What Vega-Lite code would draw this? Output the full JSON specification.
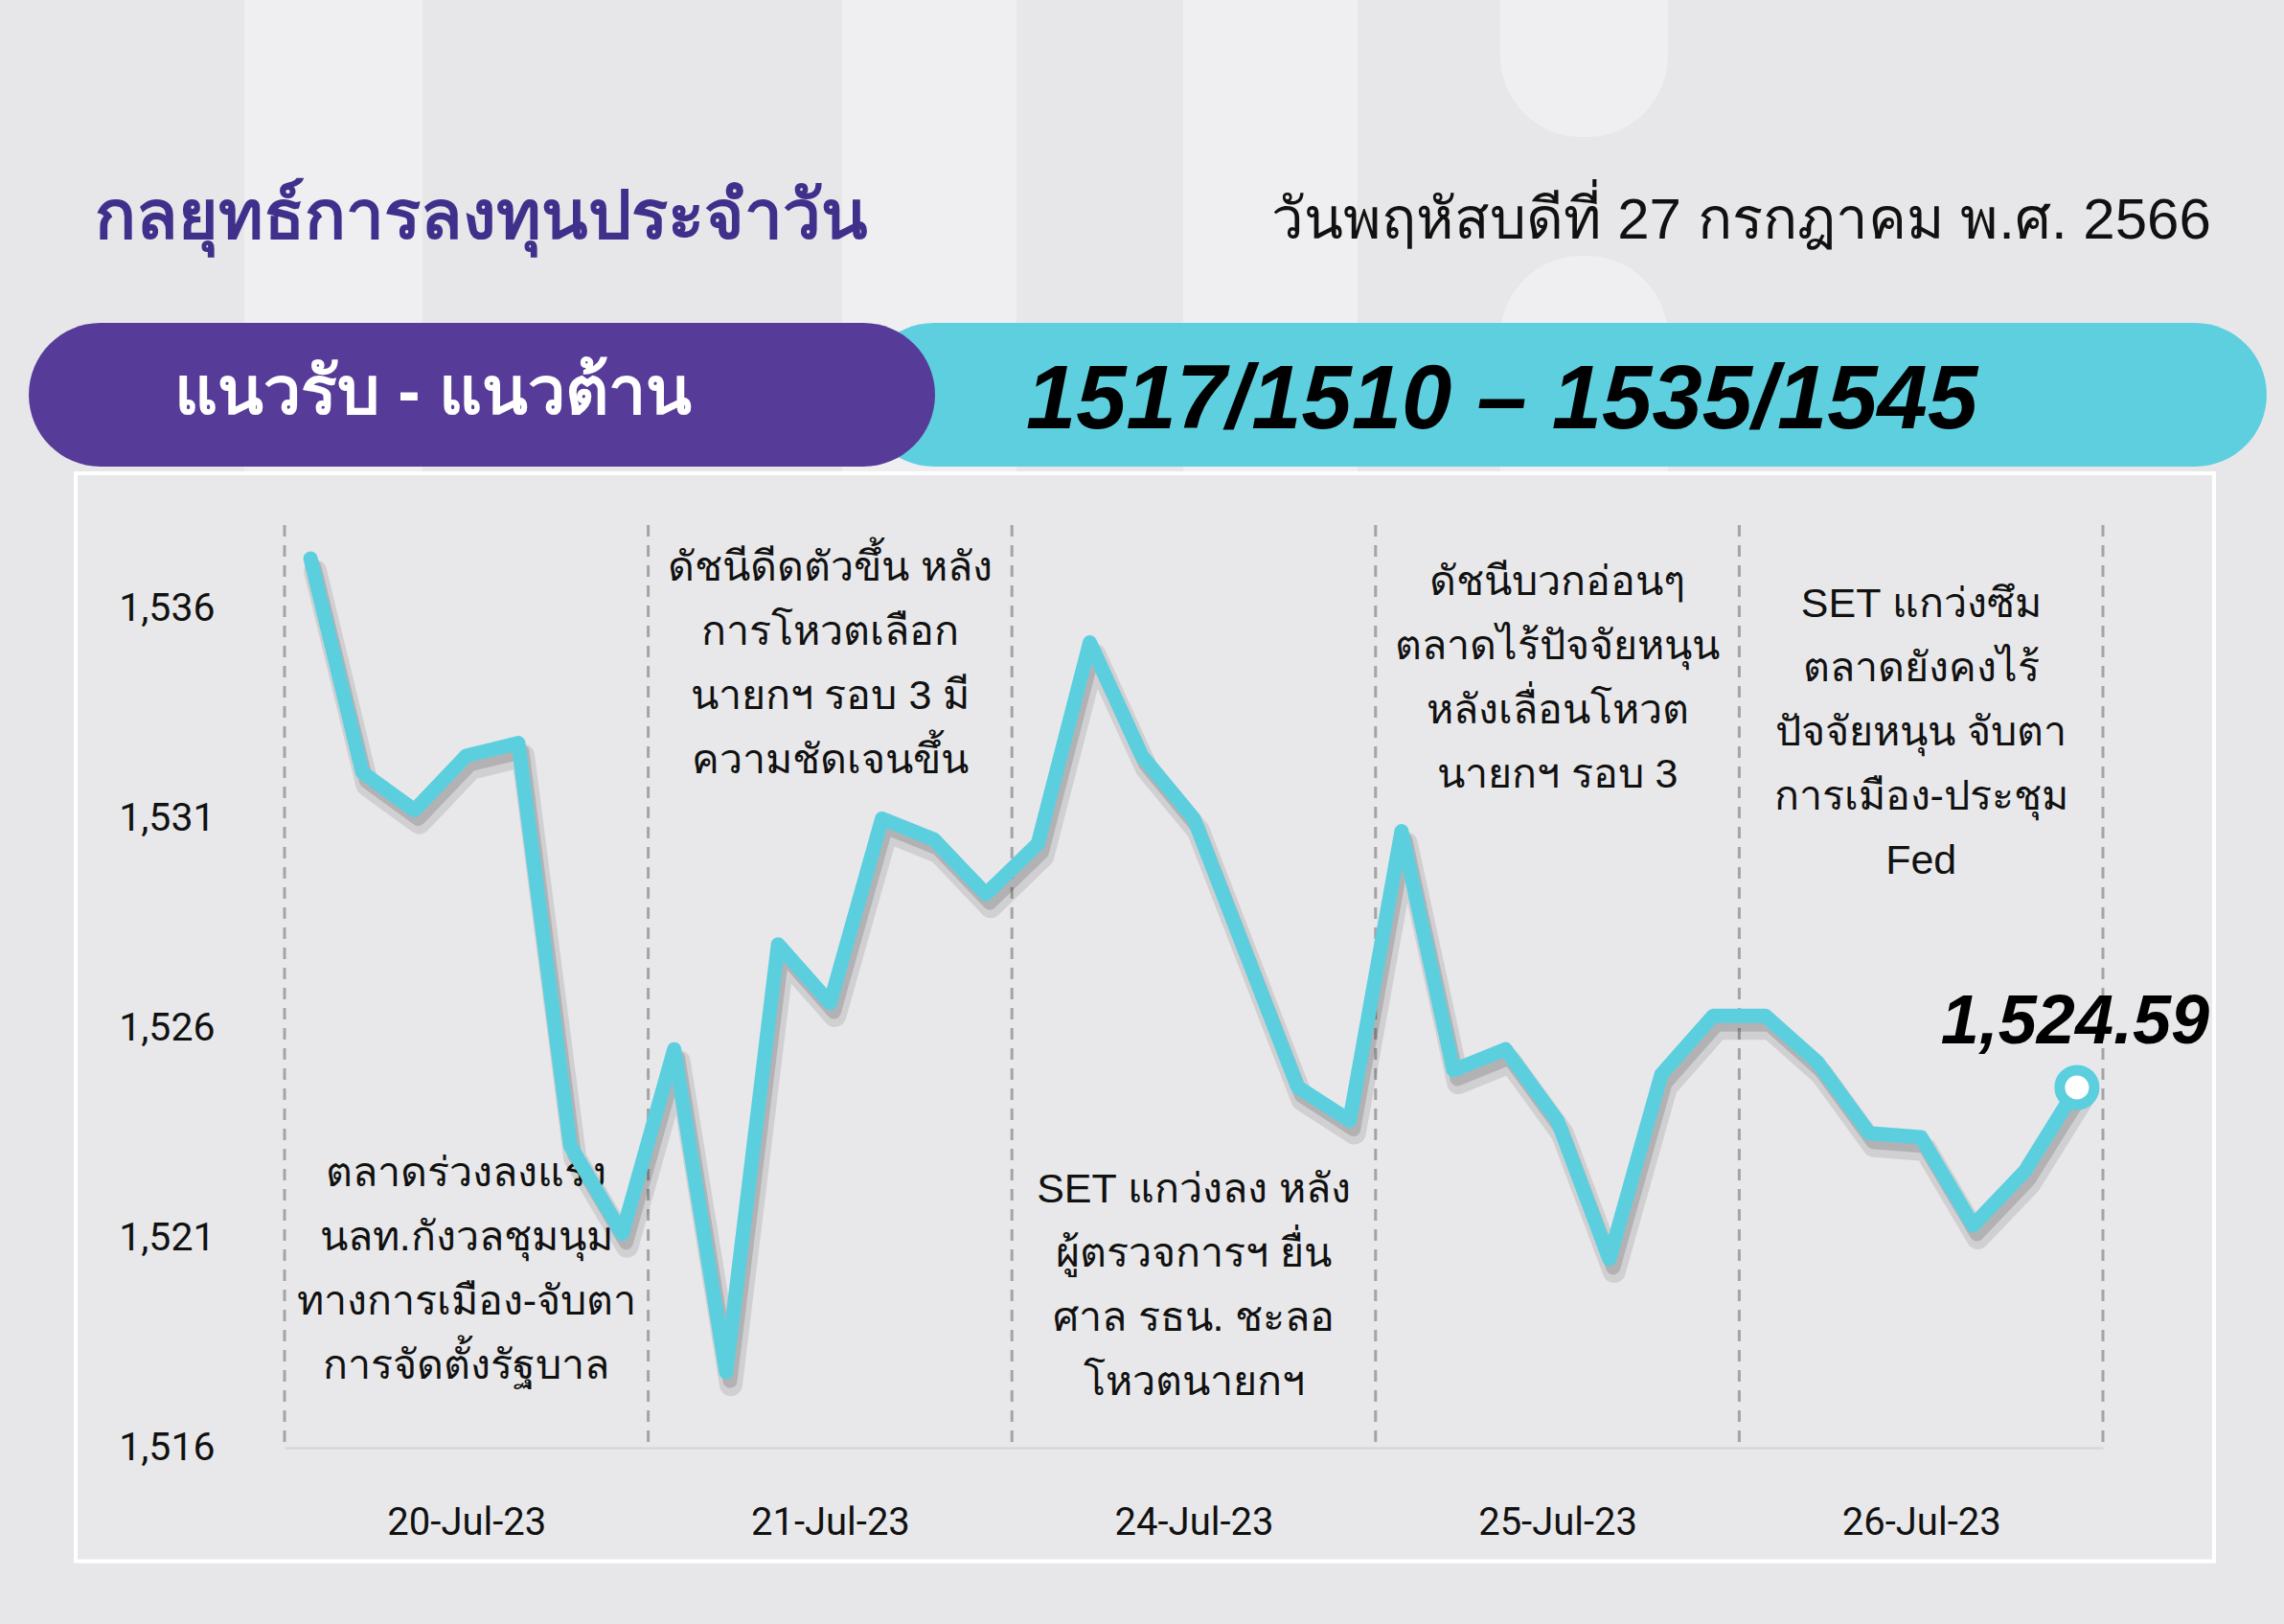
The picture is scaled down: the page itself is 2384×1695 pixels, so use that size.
{
  "$schema": "https://vega.github.io/schema/vega-lite/v6.json",
  "autosize": {"type": "none"},
  "width": 1898,
  "height": 963,
  "padding": {"left": 297, "top": 548, "right": 189, "bottom": 184},
  "background": "#e7e7e9",
  "config": {"view": {"stroke": null}, "font": "Liberation Sans"},
  "datasets": {
    "set": [
      {"i": 0, "date": "20-Jul-23", "close": 1537.2},
      {"i": 1, "date": "20-Jul-23", "close": 1532.1},
      {"i": 2, "date": "20-Jul-23", "close": 1531.2},
      {"i": 3, "date": "20-Jul-23", "close": 1532.5},
      {"i": 4, "date": "20-Jul-23", "close": 1532.8},
      {"i": 5, "date": "20-Jul-23", "close": 1523.2},
      {"i": 6, "date": "20-Jul-23", "close": 1521.1},
      {"i": 7, "date": "21-Jul-23", "close": 1525.5},
      {"i": 8, "date": "21-Jul-23", "close": 1517.8},
      {"i": 9, "date": "21-Jul-23", "close": 1528.0},
      {"i": 10, "date": "21-Jul-23", "close": 1526.6},
      {"i": 11, "date": "21-Jul-23", "close": 1531.0},
      {"i": 12, "date": "21-Jul-23", "close": 1530.5},
      {"i": 13, "date": "21-Jul-23", "close": 1529.2},
      {"i": 14, "date": "24-Jul-23", "close": 1530.4},
      {"i": 15, "date": "24-Jul-23", "close": 1535.2},
      {"i": 16, "date": "24-Jul-23", "close": 1532.5},
      {"i": 17, "date": "24-Jul-23", "close": 1531.0},
      {"i": 18, "date": "24-Jul-23", "close": 1527.8},
      {"i": 19, "date": "24-Jul-23", "close": 1524.6},
      {"i": 20, "date": "24-Jul-23", "close": 1523.8},
      {"i": 21, "date": "25-Jul-23", "close": 1530.7},
      {"i": 22, "date": "25-Jul-23", "close": 1525.0},
      {"i": 23, "date": "25-Jul-23", "close": 1525.5},
      {"i": 24, "date": "25-Jul-23", "close": 1523.8},
      {"i": 25, "date": "25-Jul-23", "close": 1520.5},
      {"i": 26, "date": "25-Jul-23", "close": 1524.9},
      {"i": 27, "date": "25-Jul-23", "close": 1526.3},
      {"i": 28, "date": "26-Jul-23", "close": 1526.3},
      {"i": 29, "date": "26-Jul-23", "close": 1525.2},
      {"i": 30, "date": "26-Jul-23", "close": 1523.5},
      {"i": 31, "date": "26-Jul-23", "close": 1523.4},
      {"i": 32, "date": "26-Jul-23", "close": 1521.3},
      {"i": 33, "date": "26-Jul-23", "close": 1522.6},
      {"i": 34, "date": "26-Jul-23", "close": 1524.59}
    ],
    "days": [
      {"b": -0.5}, {"b": 6.5}, {"b": 13.5}, {"b": 20.5}, {"b": 27.5}, {"b": 34.5}
    ],
    "notes": [
      {"mid": 3, "level": 1522.54, "note": "ตลาดร่วงลงแรง\nนลท.กังวลชุมนุม\nทางการเมือง-จับตา\nการจัดตั้งรัฐบาล"},
      {"mid": 10, "level": 1536.97, "note": "ดัชนีดีดตัวขึ้น หลัง\nการโหวตเลือก\nนายกฯ รอบ 3 มี\nความชัดเจนขึ้น"},
      {"mid": 17, "level": 1522.15, "note": "SET แกว่งลง หลัง\nผู้ตรวจการฯ ยื่น\nศาล รธน. ชะลอ\nโหวตนายกฯ"},
      {"mid": 24, "level": 1536.63, "note": "ดัชนีบวกอ่อนๆ\nตลาดไร้ปัจจัยหนุน\nหลังเลื่อนโหวต\nนายกฯ รอบ 3"},
      {"mid": 31, "level": 1536.1, "note": "SET แกว่งซึม\nตลาดยังคงไร้\nปัจจัยหนุน จับตา\nการเมือง-ประชุม\nFed"}
    ]
  },
  "layer": [
    {
      "data": {"values": [{}]},
      "mark": {"type": "rect", "color": "#efeff1"},
      "encoding": {
        "x": {"datum": -1.274, "type": "quantitative", "scale": {"domain": [-0.5, 34.5], "nice": false, "zero": false}},
        "x2": {"datum": 2.155},
        "y": {"datum": 1550.6, "type": "quantitative", "scale": {"domain": [1516, 1538], "nice": false, "zero": false}},
        "y2": {"datum": 1539.0}
      }
    },
    {
      "data": {"values": [{}]},
      "mark": {"type": "rect", "color": "#efeff1"},
      "encoding": {
        "x": {"datum": 10.232, "type": "quantitative"},
        "x2": {"datum": 13.588},
        "y": {"datum": 1550.6, "type": "quantitative"},
        "y2": {"datum": 1539.0}
      }
    },
    {
      "data": {"values": [{}]},
      "mark": {"type": "rect", "color": "#efeff1"},
      "encoding": {
        "x": {"datum": 16.797, "type": "quantitative"},
        "x2": {"datum": 20.153},
        "y": {"datum": 1550.6, "type": "quantitative"},
        "y2": {"datum": 1539.0}
      }
    },
    {
      "data": {"values": [{}]},
      "mark": {"type": "rect", "color": "#efeff1", "cornerRadius": 85},
      "encoding": {
        "x": {"datum": 22.9, "type": "quantitative"},
        "x2": {"datum": 26.127},
        "y": {"datum": 1553.5, "type": "quantitative"},
        "y2": {"datum": 1547.25}
      }
    },
    {
      "data": {"values": [{}]},
      "mark": {"type": "rect", "color": "#efeff1", "cornerRadius": 85},
      "encoding": {
        "x": {"datum": 22.9, "type": "quantitative"},
        "x2": {"datum": 26.127},
        "y": {"datum": 1544.42, "type": "quantitative"},
        "y2": {"datum": 1536.8}
      }
    },
    {
      "data": {"values": [{}]},
      "mark": {"type": "rect", "fill": "#e8e8ea", "stroke": "#ffffff", "strokeWidth": 4},
      "encoding": {
        "x": {"datum": -4.52, "type": "quantitative"},
        "x2": {"datum": 36.638},
        "y": {"datum": 1539.233, "type": "quantitative"},
        "y2": {"datum": 1513.291}
      }
    },
    {
      "data": {"values": [{}]},
      "mark": {"type": "rect", "color": "#5dcfdf", "cornerRadius": 75},
      "encoding": {
        "x": {"datum": 10.619, "type": "quantitative"},
        "x2": {"datum": 37.652},
        "y": {"datum": 1542.818, "type": "quantitative"},
        "y2": {"datum": 1539.393}
      }
    },
    {
      "data": {"values": [{}]},
      "mark": {"type": "rect", "color": "#563b98", "cornerRadius": 75},
      "encoding": {
        "x": {"datum": -5.423, "type": "quantitative"},
        "x2": {"datum": 12.021},
        "y": {"datum": 1542.818, "type": "quantitative"},
        "y2": {"datum": 1539.393}
      }
    },
    {
      "data": {"values": [{"t": "กลยุทธ์การลงทุนประจำวัน"}]},
      "mark": {"type": "text", "align": "left", "baseline": "middle", "fontSize": 71, "fontWeight": "bold", "color": "#40308c"},
      "encoding": {
        "x": {"datum": -4.151, "type": "quantitative"},
        "y": {"datum": 1545.31, "type": "quantitative"},
        "text": {"field": "t"}
      }
    },
    {
      "data": {"values": [{"t": "วันพฤหัสบดีที่ 27 กรกฎาคม พ.ศ. 2566"}]},
      "mark": {"type": "text", "align": "right", "baseline": "middle", "fontSize": 60, "color": "#111111"},
      "encoding": {
        "x": {"datum": 36.58, "type": "quantitative"},
        "y": {"datum": 1545.24, "type": "quantitative"},
        "text": {"field": "t"}
      }
    },
    {
      "data": {"values": [{"t": "แนวรับ - แนวต้าน"}]},
      "mark": {"type": "text", "align": "center", "baseline": "middle", "fontSize": 70, "fontWeight": "bold", "color": "#ffffff"},
      "encoding": {
        "x": {"datum": 2.358, "type": "quantitative"},
        "y": {"datum": 1541.14, "type": "quantitative"},
        "text": {"field": "t"}
      }
    },
    {
      "data": {"values": [{"t": "1517/1510 – 1535/1545"}]},
      "mark": {"type": "text", "align": "center", "baseline": "alphabetic", "fontSize": 94, "fontWeight": "bold", "fontStyle": "italic", "color": "#000000"},
      "encoding": {
        "x": {"datum": 22.93, "type": "quantitative"},
        "y": {"datum": 1540.3, "type": "quantitative"},
        "text": {"field": "t"}
      }
    },
    {
      "data": {"name": "days"},
      "mark": {"type": "rule", "color": "#a4a4a6", "strokeWidth": 3, "strokeDash": [12, 9]},
      "encoding": {
        "x": {"field": "b", "type": "quantitative"}
      }
    },
    {
      "data": {"name": "notes"},
      "mark": {"type": "text", "align": "center", "baseline": "middle", "fontSize": 43, "lineHeight": 67, "lineBreak": "\n", "color": "#111111"},
      "encoding": {
        "x": {"field": "mid", "type": "quantitative"},
        "y": {"field": "level", "type": "quantitative"},
        "text": {"field": "note"}
      }
    },
    {
      "data": {"name": "set"},
      "mark": {"type": "line", "color": "#000000", "opacity": 0.1, "strokeWidth": 24, "strokeJoin": "round", "strokeCap": "round", "xOffset": 5, "yOffset": 13},
      "encoding": {
        "x": {"field": "i", "type": "quantitative"},
        "y": {"field": "close", "type": "quantitative"}
      }
    },
    {
      "data": {"name": "set"},
      "mark": {"type": "line", "color": "#000000", "opacity": 0.14, "strokeWidth": 15, "strokeJoin": "round", "strokeCap": "round", "xOffset": 4, "yOffset": 9},
      "encoding": {
        "x": {"field": "i", "type": "quantitative"},
        "y": {"field": "close", "type": "quantitative"}
      }
    },
    {
      "data": {"name": "set"},
      "mark": {"type": "line", "color": "#5ccfdf", "strokeWidth": 15, "strokeJoin": "round", "strokeCap": "round"},
      "encoding": {
        "x": {
          "field": "i", "type": "quantitative",
          "scale": {"domain": [-0.5, 34.5], "nice": false, "zero": false},
          "axis": {
            "values": [3, 10, 17, 24, 31],
            "labelExpr": "['20-Jul-23','21-Jul-23','24-Jul-23','25-Jul-23','26-Jul-23'][round((datum.value - 3) / 7)]",
            "title": null, "ticks": false, "grid": false, "zindex": 1,
            "domainColor": "#d4d4d6", "domainWidth": 2,
            "labelFont": "Roboto", "labelFontSize": 40, "labelColor": "#111111",
            "labelPadding": 58
          }
        },
        "y": {
          "field": "close", "type": "quantitative",
          "scale": {"domain": [1516, 1538], "nice": false, "zero": false},
          "axis": {
            "values": [1516, 1521, 1526, 1531, 1536],
            "format": ",d",
            "title": null, "ticks": false, "grid": false, "domain": false, "zindex": 1,
            "labelFont": "Roboto", "labelFontSize": 41, "labelColor": "#111111",
            "labelPadding": 73
          }
        }
      }
    },
    {
      "data": {"name": "set"},
      "transform": [{"filter": "datum.i == 34"}],
      "mark": {"type": "point", "filled": true, "fill": "#ffffff", "stroke": "#5ccfdf", "strokeWidth": 11, "size": 1300, "opacity": 1},
      "encoding": {
        "x": {"field": "i", "type": "quantitative"},
        "y": {"field": "close", "type": "quantitative"}
      }
    },
    {
      "data": {"name": "set"},
      "transform": [{"filter": "datum.i == 34"}],
      "mark": {"type": "text", "align": "center", "baseline": "alphabetic", "fontSize": 72, "fontWeight": "bold", "fontStyle": "italic", "color": "#000000", "dx": -2, "dy": -46},
      "encoding": {
        "x": {"field": "i", "type": "quantitative"},
        "y": {"field": "close", "type": "quantitative"},
        "text": {"field": "close", "format": ",.2f"}
      }
    }
  ]
}
